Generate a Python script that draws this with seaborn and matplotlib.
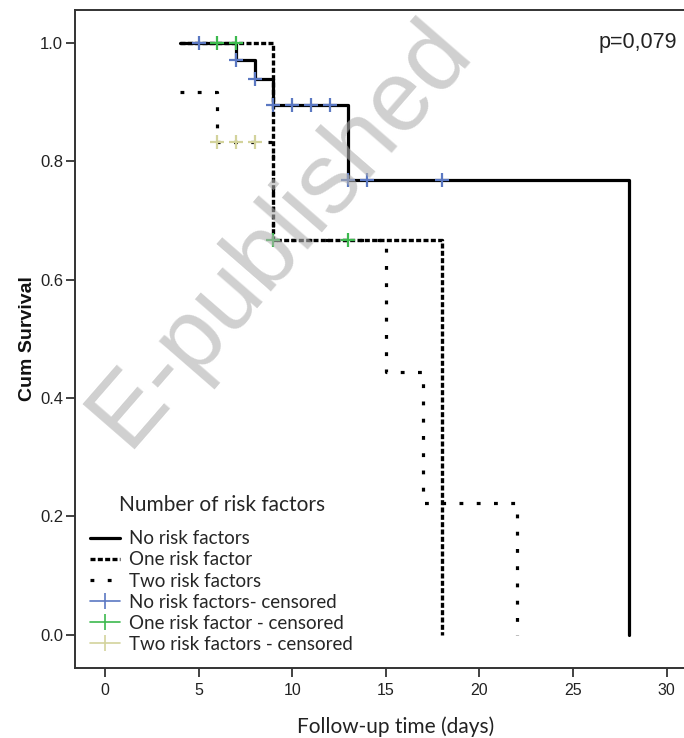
import numpy as np
import pandas as pd
import seaborn as sns
import matplotlib
matplotlib.use('Agg')
import matplotlib.pyplot as plt
from matplotlib.lines import Line2D

# Kaplan-Meier steps
no_rf_time = [4, 7, 8, 9, 13, 28]
no_rf_surv = [1.0, 0.972, 0.939, 0.895, 0.768, 0.0]
one_rf_time = [4, 9, 18]
one_rf_surv = [1.0, 0.667, 0.0]
two_rf_time = [4, 6, 9, 15, 17, 22]
two_rf_surv = [0.917, 0.833, 0.667, 0.444, 0.222, 0.0]

# censored observations
no_rf_cens_time = [5, 7, 8, 9, 10, 11, 12, 13, 14, 18]
no_rf_cens_surv = [1.0, 0.972, 0.939, 0.895, 0.895, 0.895, 0.895, 0.768, 0.768, 0.768]
one_rf_cens_time = [6, 7, 9, 13]
one_rf_cens_surv = [1.0, 1.0, 0.667, 0.667]
two_rf_cens_time = [6, 7, 8]
two_rf_cens_surv = [0.833, 0.833, 0.833]

labels = ['No risk factors', 'One risk factor', 'Two risk factors']
cens_labels = ['No risk factors- censored', 'One risk factor - censored',
               'Two risk factors - censored']
cens_colors = ['#5b78c2', '#3cb94e', '#d3d39c']
line_styles = ['-', (0, (1.5, 0.7)), (0, (1.2, 4.2))]
line_widths = [2.3, 2.4, 2.3]

sns.set_style('ticks')
plt.rcParams['font.family'] = ['Liberation Sans', 'DejaVu Sans']
calibri = ['Lato', 'DejaVu Sans']

fig = plt.figure(figsize=(6.84, 7.38), dpi=100)
ax = fig.add_axes([0.1096, 0.0949, 0.8904, 0.8916])

series = [(no_rf_time, no_rf_surv), (one_rf_time, one_rf_surv), (two_rf_time, two_rf_surv)]
for (t, s), ls, lw in zip(series, line_styles, line_widths):
    df = pd.DataFrame({'time': t, 'surv': s})
    sns.lineplot(data=df, x='time', y='surv', ax=ax, estimator=None, sort=False,
                 drawstyle='steps-post', color='black', linestyle=ls, linewidth=lw,
                 zorder=2)

cens = [(no_rf_cens_time, no_rf_cens_surv), (one_rf_cens_time, one_rf_cens_surv),
        (two_rf_cens_time, two_rf_cens_surv)]
for (t, s), c in zip(cens, cens_colors):
    df = pd.DataFrame({'time': t, 'surv': s})
    sns.scatterplot(data=df, x='time', y='surv', ax=ax, marker='+', s=110,
                    color=c, linewidth=1.6, zorder=3)

ax.set_xlim(-1.6, 30.93)
ax.set_ylim(-0.056, 1.056)
ax.set_xticks([0, 5, 10, 15, 20, 25, 30])
ax.set_yticks([0.0, 0.2, 0.4, 0.6, 0.8, 1.0])
ax.set_yticklabels(['0.0', '0.2', '0.4', '0.6', '0.8', '1.0'])
ax.tick_params(axis='both', length=6.5, width=1.3, color='#333333', labelsize=11.5,
               labelcolor='#222222', direction='out')
ax.tick_params(axis='y', pad=2, labelsize=12)
ax.tick_params(axis='x', pad=4)

for side in ['left', 'bottom', 'top']:
    ax.spines[side].set_color('#333333')
    ax.spines[side].set_linewidth(1.4)
ax.spines['right'].set_visible(False)

ax.set_xlabel('Follow-up time (days)', fontsize=15, family=calibri,
              color='#222222')
ax.xaxis.set_label_coords(0.527, -0.074)
ax.set_ylabel('Cum Survival', fontsize=14, fontweight='bold', color='#111111', labelpad=3)

ax.text(0.988, 0.95, 'p=0,079', transform=ax.transAxes, ha='right', va='center',
        fontsize=15.5, color='#222222')

handles = [Line2D([], [], color='black', linestyle=ls, linewidth=lw)
           for ls, lw in zip(line_styles, line_widths)]
handles += [Line2D([], [], color=c, linestyle='-', linewidth=1.2, marker='|',
                   markersize=11, markeredgewidth=1.2) for c in cens_colors]
leg = ax.legend(handles, labels + cens_labels, title='Number of risk factors',
                loc='lower left', bbox_to_anchor=(0.0, 0.0), frameon=False,
                prop={'family': calibri, 'size': 13.5},
                handlelength=1.6, handletextpad=0.5, labelspacing=0.22,
                borderaxespad=0.5, borderpad=0.3)
leg.get_title().set_fontfamily(calibri)
leg.get_title().set_fontsize(15)
leg._legend_box.align = 'center'
leg._legend_box.sep = 11

# watermark from the source
fig.text(0.41, 0.685, 'E-published', rotation=49, fontsize=72, color='#b0b0b0',
         alpha=0.6, ha='center', va='center', family=['Liberation Sans', 'DejaVu Sans'],
         zorder=10)

fig.savefig('out.png', dpi=100)
